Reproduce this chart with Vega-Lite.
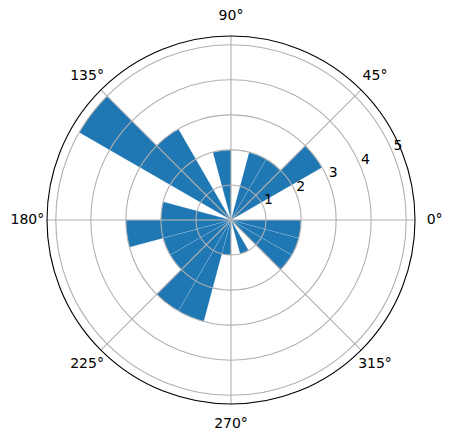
{
  "$schema": "https://vega.github.io/schema/vega-lite/v6.json",
  "width": 444,
  "height": 440,
  "autosize": "none",
  "padding": {"left": 9, "top": 0, "right": 0, "bottom": 0},
  "background": "white",
  "config": {"view": {"stroke": null}, "font": "DejaVu Sans"},
  "datasets": {
    "bars": [
      {"start": 0, "end": 15, "count": 0},
      {"start": 15, "end": 30, "count": 0},
      {"start": 30, "end": 45, "count": 3},
      {"start": 45, "end": 60, "count": 2},
      {"start": 60, "end": 75, "count": 2},
      {"start": 75, "end": 90, "count": 0},
      {"start": 90, "end": 105, "count": 2},
      {"start": 105, "end": 120, "count": 0},
      {"start": 120, "end": 135, "count": 3},
      {"start": 135, "end": 150, "count": 5},
      {"start": 150, "end": 165, "count": 0},
      {"start": 165, "end": 180, "count": 2},
      {"start": 180, "end": 195, "count": 3},
      {"start": 195, "end": 210, "count": 2},
      {"start": 210, "end": 225, "count": 2},
      {"start": 225, "end": 240, "count": 3},
      {"start": 240, "end": 255, "count": 3},
      {"start": 255, "end": 270, "count": 1},
      {"start": 270, "end": 285, "count": 0},
      {"start": 285, "end": 300, "count": 1},
      {"start": 300, "end": 315, "count": 0},
      {"start": 315, "end": 330, "count": 2},
      {"start": 330, "end": 345, "count": 2},
      {"start": 345, "end": 360, "count": 2}
    ],
    "rings": [{"r": 1}, {"r": 2}, {"r": 3}, {"r": 4}, {"r": 5}],
    "angles": [
      {"a": 0, "label": "0°"},
      {"a": 45, "label": "45°"},
      {"a": 90, "label": "90°"},
      {"a": 135, "label": "135°"},
      {"a": 180, "label": "180°"},
      {"a": 225, "label": "225°"},
      {"a": 270, "label": "270°"},
      {"a": 315, "label": "315°"}
    ],
    "outer": [{"r": 5.25}]
  },
  "layer": [
    {
      "data": {"name": "bars"},
      "mark": {"type": "arc", "color": "#1f77b4", "stroke": "#ffffff", "strokeWidth": 0.4, "strokeOpacity": 0.35},
      "encoding": {
        "theta": {"field": "start", "type": "quantitative", "stack": null,
          "scale": {"domain": [0, 360], "range": [1.5707963, -4.712389]}},
        "theta2": {"field": "end"},
        "radius": {"field": "count", "type": "quantitative", "stack": null,
          "scale": {"type": "linear", "domain": [0, 5.25], "range": [0, 184], "zero": true}}
      }
    },
    {
      "data": {"name": "rings"},
      "mark": {"type": "arc", "filled": false, "stroke": "#b0b0b0", "strokeWidth": 1.1, "theta": 0, "theta2": 6.2832},
      "encoding": {
        "radius": {"field": "r", "type": "quantitative", "stack": null}
      }
    },
    {
      "data": {"name": "angles"},
      "mark": {"type": "arc", "filled": false, "stroke": "#b0b0b0", "strokeWidth": 1.1},
      "encoding": {
        "theta": {"field": "a", "type": "quantitative", "stack": null},
        "theta2": {"field": "a"},
        "radius": {"datum": 5.25, "type": "quantitative", "stack": null}
      }
    },
    {
      "data": {"name": "outer"},
      "mark": {"type": "arc", "filled": false, "stroke": "#000000", "strokeWidth": 1.1, "theta": 0, "theta2": 6.2832},
      "encoding": {
        "radius": {"field": "r", "type": "quantitative", "stack": null}
      }
    },
    {
      "data": {"name": "angles"},
      "mark": {"type": "text", "fontSize": 14, "color": "#000000"},
      "encoding": {
        "theta": {"field": "a", "type": "quantitative", "stack": null},
        "radius": {"datum": 5.81, "type": "quantitative", "stack": null},
        "text": {"field": "label"}
      }
    },
    {
      "data": {"name": "rings"},
      "mark": {"type": "text", "fontSize": 14, "color": "#000000", "dx": 5, "dy": -6.5},
      "encoding": {
        "theta": {"datum": 22.5, "type": "quantitative", "stack": null},
        "radius": {"field": "r", "type": "quantitative", "stack": null},
        "text": {"field": "r"}
      }
    }
  ]
}
